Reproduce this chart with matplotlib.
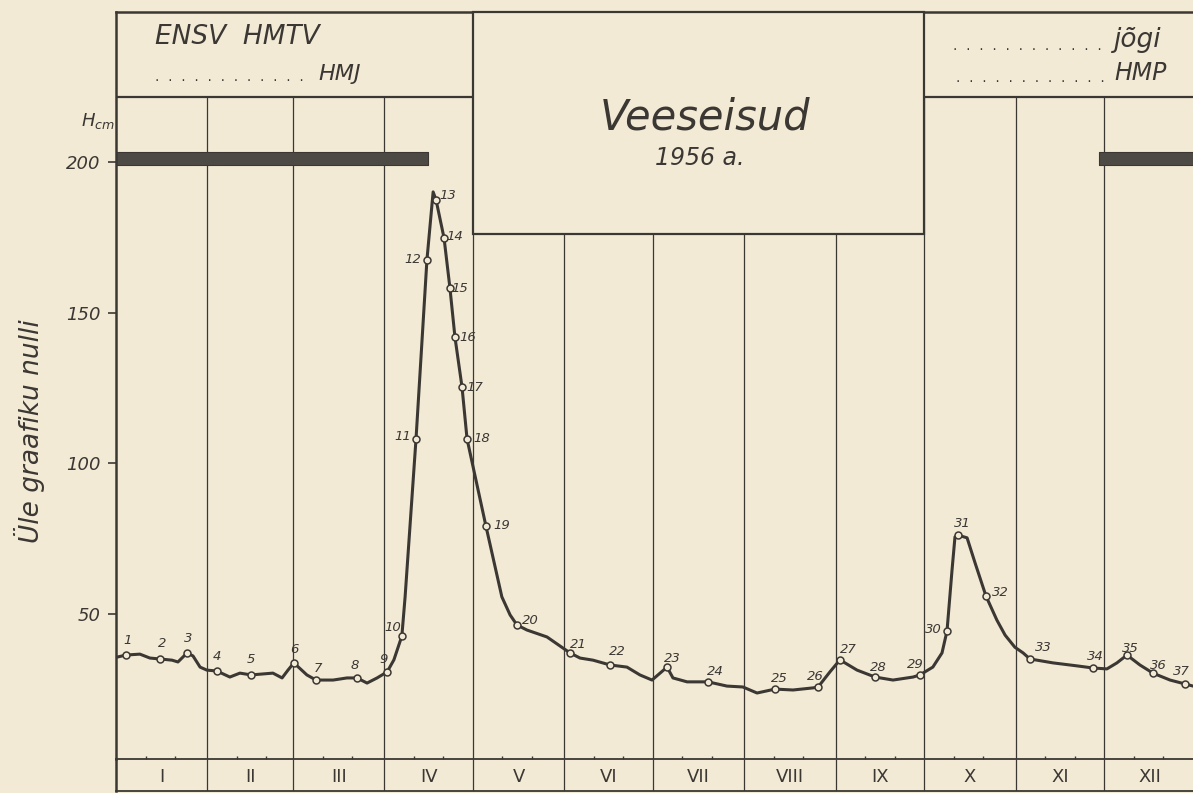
import numpy as np
import matplotlib.pyplot as plt
from matplotlib.patches import Rectangle

W_PX, H_PX = 1193, 793
paper = '#f3ead6'
ink = '#3b3834'
bar_col = '#4d4a46'

# water level curve (day of year 1956, cm above graph zero)
curve_day = [0.3, 3.4, 8.1, 11.5, 14.9, 19.0, 21.0, 24.1, 26.1, 28.5, 30.8, 34.2,
             38.6, 42.0, 45.8, 53.2, 56.3, 58.3, 60.3, 64.7, 67.8, 73.6, 78.3, 81.7,
             85.1, 88.5, 91.9, 94.2, 96.9, 98.0, 101.7, 105.4, 107.5, 108.5, 111.2,
             113.2, 114.9, 117.3, 119.0, 125.4, 130.8, 133.6, 135.9, 139.3, 146.1,
             153.9, 157.3, 161.7, 167.5, 173.2, 177.6, 181.7, 186.8, 188.8, 193.6,
             200.7, 207.1, 212.5, 217.3, 223.4, 229.5, 236.3, 238.0, 242.0, 245.4,
             251.2, 257.3, 263.4, 270.2, 272.5, 276.9, 280.0, 281.7, 283.4, 284.4,
             285.4, 288.5, 291.2, 294.9, 298.6, 301.4, 304.7, 307.5, 309.8, 317.6,
             325.8, 331.2, 335.9, 339.3, 342.7, 347.1, 351.5, 357.3, 362.4, 365.1]
curve_h = [35.7, 36.4, 36.7, 35.4, 35.1, 34.7, 34.1, 37.1, 36.1, 32.4, 31.4, 31.1,
           29.1, 30.4, 29.8, 30.4, 28.8, 31.4, 33.8, 29.8, 28.1, 28.1, 28.8, 28.8,
           27.1, 28.8, 30.8, 34.8, 42.7, 55.7, 108.1, 167.5, 190.1, 187.4, 174.8,
           158.2, 141.9, 125.3, 108.1, 79.2, 55.7, 49.7, 46.4, 44.7, 42.4,
           37.1, 35.4, 34.7, 33.1, 32.4, 29.8, 28.1, 32.4, 28.8, 27.5,
           27.5, 26.1, 25.8, 23.8, 25.1, 24.8, 25.5, 25.8, 30.8, 34.8,
           31.4, 29.1, 28.1, 29.1, 29.8, 32.4, 37.1, 44.4, 64.6, 75.6,
           76.2, 75.3, 67.0, 56.0, 48.0, 43.0, 39.0, 37.1, 35.1, 33.8,
           32.8, 32.1, 31.8, 33.8, 36.4, 33.1, 30.4, 28.1, 26.8, 26.1]

# numbered observation points
point_no = list(range(1, 38))
point_day = [3.4, 14.9, 24.1, 34.2, 45.8, 60.3, 67.8, 81.7, 91.9, 96.9,
             101.7, 105.4, 108.5, 111.2, 113.2, 114.9, 117.3, 119.0, 125.4, 135.9,
             153.9, 167.5, 186.8, 200.7, 223.4, 238.0, 245.4, 257.3, 272.5, 281.7,
             285.4, 294.9, 309.8, 331.2, 342.7, 351.5, 362.4]
point_h = [36.4, 35.1, 37.1, 31.1, 29.8, 33.8, 28.1, 28.8, 30.8, 42.7,
           108.1, 167.5, 187.4, 174.8, 158.2, 141.9, 125.3, 108.1, 79.2, 46.4,
           37.1, 33.1, 32.4, 27.5, 25.1, 25.8, 34.8, 29.1, 29.8, 44.4,
           76.2, 56.0, 35.1, 32.1, 36.4, 30.4, 26.8]

month_names = ['I', 'II', 'III', 'IV', 'V', 'VI', 'VII', 'VIII', 'IX', 'X', 'XI', 'XII']
month_days = [31, 29, 31, 30, 31, 30, 31, 31, 30, 31, 30, 31]
ice_periods = [(0, 105.7), (333.2, 366)]
ice_band = (199.1, 203.4)
y_ticks = [50, 100, 150, 200]

# label offsets in pixels (dx, dy up)
label_off = {1: (2, 15), 2: (2, 15), 3: (1, 14), 4: (0, 15), 5: (0, 15), 6: (0, 13),
             7: (2, 12), 8: (-2, 12), 9: (-3, 12), 10: (-9, 9), 11: (-13, 2),
             12: (-14, 0), 13: (12, 5), 14: (11, 1), 15: (10, 0), 16: (13, 0),
             17: (13, 0), 18: (15, 0), 19: (16, 1), 20: (13, 4), 21: (8, 8),
             22: (7, 13), 23: (5, 9), 24: (7, 10), 25: (4, 11), 26: (-3, 10),
             27: (8, 10), 28: (3, 10), 29: (-5, 10), 30: (-14, 1), 31: (4, 12),
             32: (14, 3), 33: (13, 11), 34: (2, 11), 35: (3, 7), 36: (5, 8), 37: (-4, 12)}

plt.rcParams['font.family'] = ['DejaVu Sans']

fig = plt.figure(figsize=(W_PX / 100, H_PX / 100), dpi=100, facecolor=paper)


def fx(px):
    return px / W_PX


def fy(py):
    return 1 - py / H_PX


x_max = (W_PX - 116) / 2.95
y_lo, y_hdr, y_top = 1.9, 221.6, 249.8

ax = fig.add_axes([fx(116), fy(759), fx(W_PX) - fx(116), fy(12) - fy(759)])
ax.set_facecolor('none')
ax.set_xlim(0, x_max)
ax.set_ylim(y_lo, y_top)

month_starts = np.cumsum([0] + month_days[:-1])

# grid of months and header line
ax.vlines(month_starts[1:], y_lo, y_hdr, color=ink, lw=0.9, zorder=1)
ax.hlines(y_hdr, 0, x_max, color=ink, lw=1.6, zorder=1)

# title box over May..September
box = Rectangle((month_starts[4], 176.1), month_starts[9] - month_starts[4], y_top - 176.1,
                facecolor=paper, edgecolor=ink, lw=1.6, zorder=3, clip_on=False)
ax.add_patch(box)

# ice bars
for s, e in ice_periods:
    ax.fill_between([s, e], ice_band[0], ice_band[1], color=bar_col, lw=0.8,
                    edgecolor=ink, zorder=2)

ax.plot(curve_day, curve_h, color=ink, lw=2.2, solid_joinstyle='round',
        solid_capstyle='round', zorder=4)
ax.plot(point_day, point_h, 'o', ms=5, mfc=paper, mec=ink, mew=1.1, zorder=5)
for n, d, h in zip(point_no, point_day, point_h):
    dx, dy = label_off[n]
    ax.annotate(str(n), (d, h), xytext=(dx * 0.72, dy * 0.72), textcoords='offset points',
                ha='center', va='center', fontsize=9.5, style='italic', color=ink,
                annotation_clip=False, zorder=6)

ax.spines['right'].set_visible(False)
ax.spines['top'].set_linewidth(1.8)
ax.spines['left'].set_linewidth(1.8)
ax.spines['bottom'].set_linewidth(1.3)
for sp in ax.spines.values():
    sp.set_color(ink)

ax.set_yticks(y_ticks)
ax.set_yticklabels([str(v) for v in y_ticks], fontsize=13, style='italic', color=ink)
ax.tick_params(axis='y', direction='out', length=6, width=1.2, pad=5, color=ink)
ax.set_xticks([])
minor = np.concatenate([month_starts + 10, month_starts + 20])
ax.set_xticks(minor, minor=True)
ax.tick_params(axis='x', which='minor', direction='in', length=2.5, width=1, color=ink,
               labelbottom=False)

# month strip
axm = fig.add_axes([fx(116), fy(791), fx(W_PX) - fx(116), fy(759) - fy(791)])
axm.set_facecolor('none')
axm.set_xlim(0, x_max)
axm.set_ylim(0, 1)
axm.vlines(month_starts[1:], 0, 1, color=ink, lw=0.9)
for name, s, n in zip(month_names, month_starts, month_days):
    axm.text(s + n / 2, 0.45, name, ha='center', va='center', fontsize=13, color=ink)
axm.set_xticks([])
axm.set_yticks([])
axm.spines['top'].set_visible(False)
axm.spines['right'].set_visible(False)
axm.spines['left'].set_linewidth(1.8)
axm.spines['bottom'].set_linewidth(1.3)
for sp in axm.spines.values():
    sp.set_color(ink)

# header texts
fig.text(fx(155), fy(37), 'ENSV  HMTV', fontsize=19, style='italic', color=ink,
         ha='left', va='center')
fig.text(fx(155), fy(77), '.  ' * 12, fontsize=10, color=ink, ha='left', va='center')
fig.text(fx(318), fy(74), 'HMJ', fontsize=16, style='italic', color=ink,
         ha='left', va='center')
fig.text(fx(953), fy(46), '.  ' * 12, fontsize=10, color=ink, ha='left', va='center')
fig.text(fx(1114), fy(40), 'jõgi', fontsize=19, style='italic', color=ink,
         ha='left', va='center')
fig.text(fx(956), fy(78), '.  ' * 12, fontsize=10, color=ink, ha='left', va='center')
fig.text(fx(1114), fy(73), 'HMP', fontsize=17, style='italic', color=ink,
         ha='left', va='center')

fig.text(fx(705), fy(117), 'Veeseisud', fontsize=30, style='italic', color=ink,
         ha='center', va='center')
fig.text(fx(700), fy(158), '1956 a.', fontsize=17, style='italic', color=ink,
         ha='center', va='center')

fig.text(fx(30), fy(431), 'Üle graafiku nulli', rotation=90, fontsize=19,
         style='italic', color=ink, ha='center', va='center')
fig.text(fx(98), fy(121), r'$H_{cm}$', fontsize=13, color=ink, ha='center', va='center')

fig.savefig('out.png', dpi=100, facecolor=paper)
